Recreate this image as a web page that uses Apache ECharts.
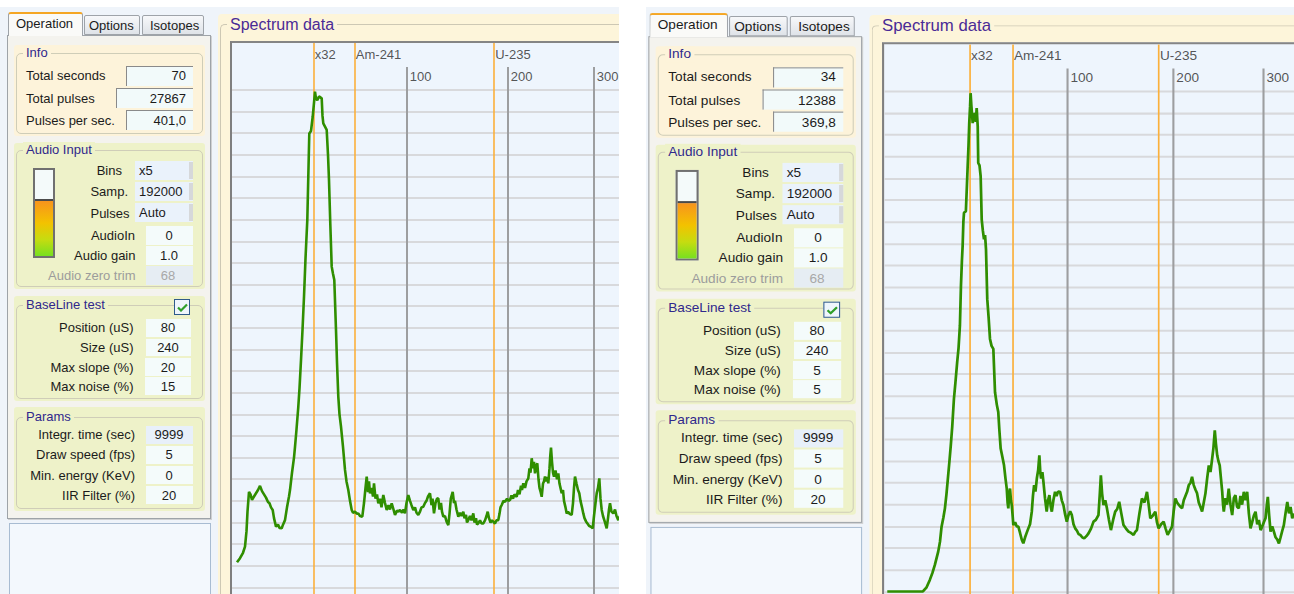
<!DOCTYPE html>
<html>
<head>
<meta charset="utf-8">
<title>Spectrum data</title>
<script src="https://cdn.jsdelivr.net/npm/echarts@6/dist/echarts.min.js"></script>
<style>
html, body { margin: 0; padding: 0; background: #fff; width: 1294px; height: 594px; overflow: hidden; }
.shot { position: absolute; overflow: hidden; background: #eff4fa; }
.inner { position: absolute; left: 0; top: 0; width: 640px; height: 620px; transform-origin: 0 0; }
.a { position: absolute; box-sizing: border-box; }
.t { position: absolute; font: 13px 'Liberation Sans', Arial, sans-serif; color: #1b1b1b; white-space: nowrap; line-height: 16px; height: 16px; }
.ed { background: #f2fafa; border-left: 1px solid #8a8a8a; border-top: 1px solid #8a8a8a; }
.ed2 { background: #f4fbfb; }
.cb { background: #eaf2fb; }
.edb { background: #e8f0fa; }
.edg { background: #e6edf3; }
.plot { position: absolute; left: 232px; top: 43px; width: 392px; height: 580px; }
</style>
</head>
<body>
<div class="shot" style="left:0px;top:7px;width:619px;height:587px"><div class="inner" id="shotA" style="transform:translate(0px,-7px)"></div></div>
<div class="shot" style="left:646px;top:7px;width:648px;height:587px"><div class="inner" id="shotB" style="transform:translate(-5px,-6px) scale(1.048,1.0056)"></div></div>
<script>
// ---- panel values (left screenshot, right screenshot)
const totalSeconds = ['70', '34'];
const totalPulses = ['27867', '12388'];
const pulsesPerSec = ['401,0', '369,8'];
const maxSlope = ['20', '5'];
const maxNoise = ['15', '5'];

// ---- chart markers (x in bins)
const isotopeNames = ['x32', 'Am-241', 'U-235'];
const isotopeBins = [82.3, 123.3, 262.7];
const energyTicks = ['100', '200', '300'];
const energyBins = [175.3, 276.3, 362.3];
const gridRows = [0, 1, 2, 3, 4, 5, 6, 7, 8, 9, 10, 11, 12, 13, 14, 15, 16, 17, 18, 19, 20, 21, 22, 23, 24];

// ---- spectra [bin, counts in grid rows]
const spectrumA = [
  [6,2.16],[9,2.35],[12,2.6],[14,2.88],[15.5,3.6],[16.5,4.5],[18,5.42],[19.5,5.3],[21,5.05],[23,5.2],[25,5.35],[27,5.5],
  [29,5.69],[31,5.45],[33,5.3],[35,5.15],[37,4.95],[38.5,4.89],[40,4.7],[41.7,4.58],[43,4.2],[45,3.81],[47,3.9],[48.5,3.75],
  [50.7,3.73],[52,3.9],[54,4.11],[56,4.7],[58,5.2],[59,5.5],[61,6.3],[63,7.0],[64,7.5],[65.5,8.3],[67.3,9.35],[68.5,10.2],
  [70,11.51],[71.5,12.9],[73,14.44],[74.5,16.2],[76.3,17.98],[77.3,20.0],[78.3,21.99],[80,22.1],[81.7,22.76],[83,23.4],
  [84,23.92],[85,23.6],[86.3,23.53],[88,23.7],[90.7,23.61],[91.5,22.8],[92.3,22.45],[94,22.3],[95.7,22.15],[97,21.0],
  [98,19.83],[99.3,17.8],[100.7,15.83],[102,15.5],[103.3,15.21],[105,12.9],[106,11.4],[107.3,9.82],[108.5,9.0],[110,8.43],
  [112,7.5],[114,6.43],[115.5,5.9],[117.3,5.5],[119,5.0],[120.7,4.58],[122,4.45],[124,4.5],[126,4.4],[127.3,4.42],[129,4.3],
  [131.3,4.27],[133,4.9],[134.5,5.6],[135.7,6.12],[137,5.4],[138,5.9],[139,5.35],[140.5,5.6],[142,5.2],[143,5.81],[144.5,5.1],
  [146,5.3],[147.3,4.89],[149,5.1],[150.5,4.7],[152.3,5.27],[154,4.9],[155.7,4.58],[157.5,4.8],[159,4.6],[160.7,4.89],
  [162.5,4.6],[164,4.35],[166,4.55],[167.5,4.5],[169,4.58],[171,4.45],[172.5,4.6],[174,4.42],[175.5,4.9],[177.3,5.27],
  [179,5.0],[180.5,4.8],[182.3,4.58],[184,4.7],[185.5,4.45],[187.3,4.35],[189,4.5],[190.5,4.7],[192.3,4.73],[194,4.9],
  [195.5,5.0],[197,5.2],[199,5.35],[200.5,4.8],[201.5,5.1],[203,4.42],[204.5,4.9],[206,5.1],[207.3,5.12],[208.5,4.6],
  [210,4.9],[211,4.5],[212.3,4.27],[214,4.3],[215.5,4.05],[217.3,3.88],[218.5,4.4],[219.8,5.1],[221.7,5.42],[223,4.9],
  [224,5.0],[225.5,4.6],[227.3,4.27],[229,4.45],[230.5,4.3],[232.3,4.5],[233.5,4.2],[235,4.35],[236,4.0],[237.3,4.11],
  [239,4.3],[240.5,4.1],[242.3,4.42],[243.5,4.0],[245,4.2],[246,3.9],[247.3,3.96],[249,4.1],[250.5,3.95],[252.3,3.96],
  [254,4.1],[255.5,4.3],[256.7,4.5],[258,4.2],[259.5,4.0],[261,4.1],[262.3,4.04],[264,3.95],[265.5,4.1],[267.3,4.11],
  [268.5,4.4],[269.5,4.7],[270.7,4.81],[272.5,5.0],[274,4.95],[276,5.1],[277.5,5.0],[279,5.04],[280.5,5.25],[282,5.1],
  [283.5,5.3],[285.7,5.19],[287,5.5],[288.5,5.3],[290,5.7],[291,5.5],[292.3,5.81],[294,5.6],[295.5,5.9],[297.3,6.04],
  [298.5,6.5],[299.5,6.3],[300.7,6.97],[302,6.5],[303,6.8],[304,6.27],[305.2,6.6],[306.3,6.74],[307.5,6.0],[308.5,5.6],
  [309.7,5.4],[310.7,5.19],[312,5.8],[313,5.9],[314,6.12],[315.5,5.9],[316.3,6.1],[317.3,5.81],[318.5,6.5],[319.3,7.1],
  [320,7.46],[321,6.8],[322,6.3],[323,6.12],[324.5,6.4],[326,6.0],[327.3,6.27],[328.5,5.8],[329.5,5.6],[330.7,5.35],
  [332,5.5],[333,5.0],[334.5,4.7],[335.7,4.42],[337,4.5],[338.5,4.4],[340.7,4.35],[342,4.9],[343,5.6],[344,6.12],
  [345.5,5.8],[347,5.5],[348.3,5.35],[349.5,5.0],[351,4.7],[352.3,4.42],[353.5,4.2],[355,4.05],[356.3,3.96],[358,3.85],
  [360,3.8],[361.7,3.73],[363,4.3],[364.5,4.9],[365.7,5.35],[367,5.6],[368.3,6.04],[369.5,5.1],[370.7,4.58],[372,4.3],
  [374,4.0],[375.7,3.73],[377,4.2],[378,4.6],[379,4.89],[380.5,4.5],[382.3,4.42],[384,4.6],[385.5,4.3],[387.3,4.11],
  [389,4.3],[391,4.2]
];
const spectrumB = [
  [4,1.01],[38,1.01],[41.5,1.2],[44.6,1.54],[47,1.85],[49.4,2.23],[52.6,2.84],[54.3,3.3],[55.8,3.99],[57.5,4.4],[59,4.83],
  [60.5,5.5],[62.1,6.35],[63.5,7.1],[64.6,7.73],[66,8.6],[67.6,9.87],[69,10.6],[70.7,11.55],[72,12.2],[73.3,13.23],
  [74.3,15.06],[75.2,16.2],[75.9,16.89],[76.6,18.0],[77.2,18.42],[79,18.49],[80,19.7],[80.7,20.55],[81.5,21.5],[82.2,22.54],
  [83,23.3],[83.5,23.92],[84.3,23.3],[85.5,22.54],[86.5,22.9],[87.7,23.0],[88.5,22.6],[89.3,23.23],[90.3,22.39],[90.8,20.71],
  [92,20.6],[93.1,20.1],[94.1,18.11],[95.2,17.6],[96.3,17.2],[97.3,17.4],[98.2,16.74],[99.4,14.45],[100.7,13.6],[102,12.62],
  [103.5,12.3],[105.2,12.16],[106.8,10.17],[108.5,9.6],[109.9,9.26],[111,8.4],[112.2,7.58],[113.8,7.2],[115.4,6.81],
  [116.8,6.2],[118,5.74],[118.8,5.1],[119.5,4.83],[120.3,5.5],[121.1,5.74],[122,5.2],[122.8,4.98],[123.6,4.5],[124.3,4.06],
  [126,4.2],[127.5,4.0],[129.1,3.99],[130.7,3.7],[132.3,3.4],[133.8,3.22],[135.5,3.5],[137,3.7],[138.6,3.91],[140.2,4.1],
  [141.9,4.68],[143,5.4],[144.1,5.9],[145.4,5.6],[146.7,6.2],[148,6.6],[149.1,7.27],[150,6.5],[150.8,6.2],[152,6.5],
  [153,6.05],[154.5,5.3],[156.1,4.68],[157.4,5.2],[158.7,5.44],[160,4.9],[161,4.68],[162.5,5.2],[164.1,5.59],[165.5,5.4],
  [167,5.6],[168.9,5.59],[170.5,5.2],[172.1,4.98],[173.5,4.6],[175.3,4.22],[176.8,4.5],[178.5,4.7],[180.1,4.52],[181.7,4.1],
  [183.3,3.91],[185,3.8],[186.5,3.65],[188.1,3.61],[190,3.5],[191.9,3.45],[194,3.55],[196,3.68],[198.4,3.9],[200.8,4.22],
  [203,4.3],[205.5,4.52],[206.8,5.5],[207.8,6.35],[209,5.5],[210.3,4.98],[212,5.2],[213.6,4.83],[215.5,4.3],[217.4,3.83],
  [219.5,4.3],[221.5,4.68],[223.4,4.8],[225.3,5.13],[227.3,4.6],[229.4,4.06],[231.8,3.9],[234.2,3.76],[236.6,3.7],[239,3.61],
  [240.6,3.75],[242.2,3.83],[244.6,4.6],[247,5.29],[249.4,5.1],[251.8,5.59],[253.4,5.0],[255,4.37],[257.4,4.5],[259.8,4.68],
  [261.3,4.2],[262.9,3.91],[265.3,4.1],[267.7,4.22],[269.6,3.9],[271.5,3.61],[273.6,3.8],[275.7,3.99],[277.3,4.7],[278.9,5.29],
  [280.5,5.1],[282.1,5.0],[283.7,4.9],[285.3,4.83],[286.9,5.2],[288.5,5.4],[290.1,5.59],[291.7,5.9],[293.3,6.0],[294.8,6.28],
  [296.4,5.9],[298,5.7],[299.6,5.52],[301.2,5.1],[302.8,4.9],[304.4,4.68],[306,5.1],[307.6,5.52],[309.2,6.2],[310.8,6.81],
  [312.4,6.5],[314,7.12],[315.2,7.6],[316.5,8.42],[317.6,7.8],[318.8,7.27],[320,7.0],[321.2,6.81],[322.4,6.2],[323.6,5.59],
  [324.4,5.0],[325.1,4.68],[326.7,5.3],[328.2,5.0],[329.8,5.74],[331.5,5.0],[333.1,4.52],[334.7,5.3],[336.2,5.44],[337.8,4.9],
  [339.4,4.83],[341,5.4],[342.6,5.0],[344.2,5.59],[345.8,5.2],[347.4,5.59],[349,4.6],[350.6,3.91],[352.2,4.2],[353.8,4.5],
  [355.4,4.68],[357,4.1],[358.6,4.3],[360.2,3.83],[361.8,4.0],[363.4,4.2],[364.9,4.37],[366.2,5.0],[367.1,5.36],[368.4,4.5],
  [369.7,3.76],[371.3,4.0],[372.9,3.76],[374.5,3.5],[376.1,3.4],[377.7,3.22],[379.3,3.5],[380.9,3.8],[382.4,4.06],[384,4.6],
  [385.7,5.13],[387.3,4.6],[388.8,4.9],[390.4,4.37],[392,4.6]
];

// layout constants of the plot (in grid rows)
const yTop = 26.17;
const isoLabelY = 25.66;
const energyLabelY = 24.64;
const energyLineTop = 25.06;

// ---- little html helpers
const px = v => v + 'px';
function rect(x1, y1, x2, y2, cls, style) {
  return `<div class="a ${cls || ''}" style="left:${px(x1)};top:${px(y1)};width:${px(x2 - x1)};height:${px(y2 - y1)};${style || ''}"></div>`;
}
function txt(x, yc, s, style) {
  return `<div class="t" style="left:${px(x)};top:${px(yc - 8)};${style || ''}">${s}</div>`;
}
function rtxt(xr, yc, s, style) {
  return `<div class="t" style="left:${px(xr - 200)};top:${px(yc - 8)};width:200px;text-align:right;${style || ''}">${s}</div>`;
}
function ctxt(xc, yc, s, style) {
  return `<div class="t" style="left:${px(xc - 50)};top:${px(yc - 8)};width:100px;text-align:center;${style || ''}">${s}</div>`;
}
function group(y1, y2, ty, title, bg) {
  return rect(14, y1, 205, y2, '', `background:${bg};border-radius:3px`) +
    rect(16, ty, 203, y2 - 2, '', 'border:1px solid #cfcdb8;border-radius:5px') +
    txt(23, ty, title, `background:${bg};padding:0 3px;color:#30288c`);
}
function combo(y1, y2, s) {
  return rect(135, y1, 193, y2, 'cb') + rect(189, y1 + 1, 193, y2 - 1, '', 'background:#d6d8da') + txt(139, (y1 + y2) / 2, s);
}

function panelHtml(k) {
  let h = '';
  // tabs + panel
  h += rect(7, 35, 211, 519, '', 'background:#f4f3ee;border:1px solid #9ea3a8;box-shadow:1px 1px 0 #cfd0d2');
  h += rect(8, 12, 83, 36, '', 'background:#fafaf8;border:1px solid #9ea3a9;border-bottom:none;border-top:2px solid #f5a623;border-radius:3px 3px 0 0');
  h += rect(84, 15, 140, 35, '', 'background:linear-gradient(#f7f8fa,#dfe3e8);border:1px solid #9ea3a9;border-radius:2px 2px 0 0');
  h += rect(142, 15, 204, 35, '', 'background:linear-gradient(#f7f8fa,#dfe3e8);border:1px solid #9ea3a9;border-radius:2px 2px 0 0');
  h += txt(16, 24, 'Operation') + txt(89, 26, 'Options') + txt(150, 26, 'Isotopes');

  // Info
  h += group(45, 136, 53, 'Info', '#fdf3da');
  h += txt(26, 76, 'Total seconds') + rect(126, 66, 193, 86, 'ed') + rtxt(186, 76, totalSeconds[k]);
  h += txt(26, 98.5, 'Total pulses') + rect(116, 88, 193, 108, 'ed') + rtxt(186, 98.5, totalPulses[k]);
  h += txt(26, 121, 'Pulses per sec.') + rect(126, 110, 193, 130, 'ed') + rtxt(186, 121, pulsesPerSec[k]);

  // Audio Input
  h += group(143, 289, 150, 'Audio Input', '#eef2c9');
  h += rect(33, 168, 55, 258, '', 'border:2px solid #707070;background:#f4fafa');
  h += rect(35, 199, 53, 256, '', 'border-top:2px solid #4a4a4a;background:linear-gradient(#f7941d 0%,#f3c200 40%,#c6dc10 70%,#78e020 100%)');
  h += rtxt(122, 171, 'Bins') + combo(161, 180, 'x5');
  h += rtxt(128, 192, 'Samp.') + combo(182, 201, '192000');
  h += rtxt(129.5, 213.5, 'Pulses') + combo(203, 222, 'Auto');
  h += rtxt(135, 235.5, 'AudioIn') + rect(146, 226, 193, 245, 'ed2') + ctxt(169, 235.5, '0');
  h += rtxt(135.5, 255.5, 'Audio gain') + rect(146, 246, 193, 265, 'ed2') + ctxt(169, 255.5, '1.0');
  h += rtxt(135.5, 275.5, 'Audio zero trim', 'color:#9c9c9c') + rect(146, 266, 193, 285, 'edg') + ctxt(168, 275.5, '68', 'color:#a8a8a8');

  // BaseLine test
  h += group(296, 401, 304.5, 'BaseLine test', '#eef2c9');
  h += rect(174, 299, 190, 315, '', 'border:1px solid #2f5a8a;background:#eef5fc');
  h += '<svg style="position:absolute;left:177px;top:303px" width="11" height="9"><polyline points="1,4.5 4,7.5 10,1.5" fill="none" stroke="#2f9f2a" stroke-width="2.2"/></svg>';
  h += rtxt(133.5, 328, 'Position (uS)') + rect(146, 319, 191, 337, 'ed2') + ctxt(168, 328, '80');
  h += rtxt(133.5, 348, 'Size (uS)') + rect(146, 339, 191, 356, 'ed2') + ctxt(168, 348, '240');
  h += rtxt(133.5, 367.5, 'Max slope (%)') + rect(145, 358, 191, 376, 'ed2') + ctxt(168, 367.5, maxSlope[k]);
  h += rtxt(133.5, 386.5, 'Max noise (%)') + rect(145, 377, 191, 395, 'ed2') + ctxt(168, 386.5, maxNoise[k]);

  // Params
  h += group(407, 511, 416.5, 'Params', '#eef2c9');
  h += rtxt(135, 435, 'Integr. time (sec)') + rect(146, 426, 193, 444, 'edb') + ctxt(169, 435, '9999');
  h += rtxt(135, 455, 'Draw speed (fps)') + rect(146, 446, 193, 464, 'ed2') + ctxt(169, 455, '5');
  h += rtxt(135, 475.5, 'Min. energy (KeV)') + rect(146, 466, 193, 484, 'ed2') + ctxt(169, 475.5, '0');
  h += rtxt(135, 495.5, 'IIR Filter (%)') + rect(146, 486, 193, 504, 'ed2') + ctxt(169, 495.5, '20');

  // empty box under the panel
  h += rect(9, 523, 211, 640, '', 'background:#f3f8fd;border:1px solid #a8bcd2');

  // spectrum frame
  h += rect(218, 14, 660, 640, '', 'background:#fdf5da;border-radius:4px 0 0 0');
  h += rect(220, 24, 660, 640, '', 'border-left:1px solid #cdc8b4;border-top:1px solid #cdc8b4;border-radius:5px 0 0 0');
  h += `<div class="t" style="left:227px;top:15px;height:19px;line-height:19px;font-size:16px;padding:0 3px;background:#fdf5da;color:#4a2a96">Spectrum data</div>`;
  h += rect(230, 41, 660, 640, '', 'background:#eef5fd;border-left:2px solid #7f7f7f;border-top:2px solid #858585');
  h += '<div class="plot"></div>';
  return h;
}

function chartOption(spectrum) {
  const font = { fontFamily: 'Liberation Sans', fontSize: 13, color: '#2a2a2a' };
  const labels = isotopeNames.map((n, i) => ({ name: n, value: [isotopeBins[i], isoLabelY], label: { distance: 1 } }))
    .concat(energyTicks.map((n, i) => ({ name: n, value: [energyBins[i], energyLabelY], label: { distance: 3 } })));
  return {
    animation: false,
    grid: { left: 0, right: 0, top: 0, bottom: 14 },
    xAxis: { type: 'value', min: 1, max: 393, show: false },
    yAxis: { type: 'value', min: 0, max: yTop, show: false },
    series: [
      {
        type: 'line', data: [], z: 1, silent: true,
        markLine: {
          symbol: ['none', 'none'], silent: true, animation: false, label: { show: false },
          lineStyle: { color: '#d8d9dc', width: 2, type: 'solid' },
          data: gridRows.map(v => ({ yAxis: v }))
        }
      },
      {
        type: 'line', data: [], z: 2, silent: true,
        markLine: {
          symbol: ['none', 'none'], silent: true, animation: false, label: { show: false },
          lineStyle: { color: '#9d9ea0', width: 2, type: 'solid' },
          data: energyBins.map(b => [{ coord: [b, energyLineTop] }, { coord: [b, 0] }])
        }
      },
      {
        type: 'line', data: [], z: 3, silent: true,
        markLine: {
          symbol: ['none', 'none'], silent: true, animation: false, label: { show: false },
          lineStyle: { color: '#fbb03b', width: 1.6, type: 'solid' },
          data: isotopeBins.map(b => ({ xAxis: b }))
        }
      },
      {
        type: 'line', data: spectrum, z: 5, silent: true, showSymbol: false,
        lineStyle: { color: '#2f8e00', width: 2.6 }
      },
      {
        type: 'scatter', data: labels, z: 6, silent: true, symbolSize: 1,
        itemStyle: { color: 'rgba(0,0,0,0)' },
        label: Object.assign({ show: true, position: 'right', formatter: '{b}' }, font)
      }
    ]
  };
}

const hosts = [document.getElementById('shotA'), document.getElementById('shotB')];
const spectra = [spectrumA, spectrumB];
hosts.forEach((host, k) => {
  host.innerHTML = panelHtml(k);
  const chart = echarts.init(host.querySelector('.plot'), null, { renderer: 'svg' });
  chart.setOption(chartOption(spectra[k]));
});
</script>
</body>
</html>
